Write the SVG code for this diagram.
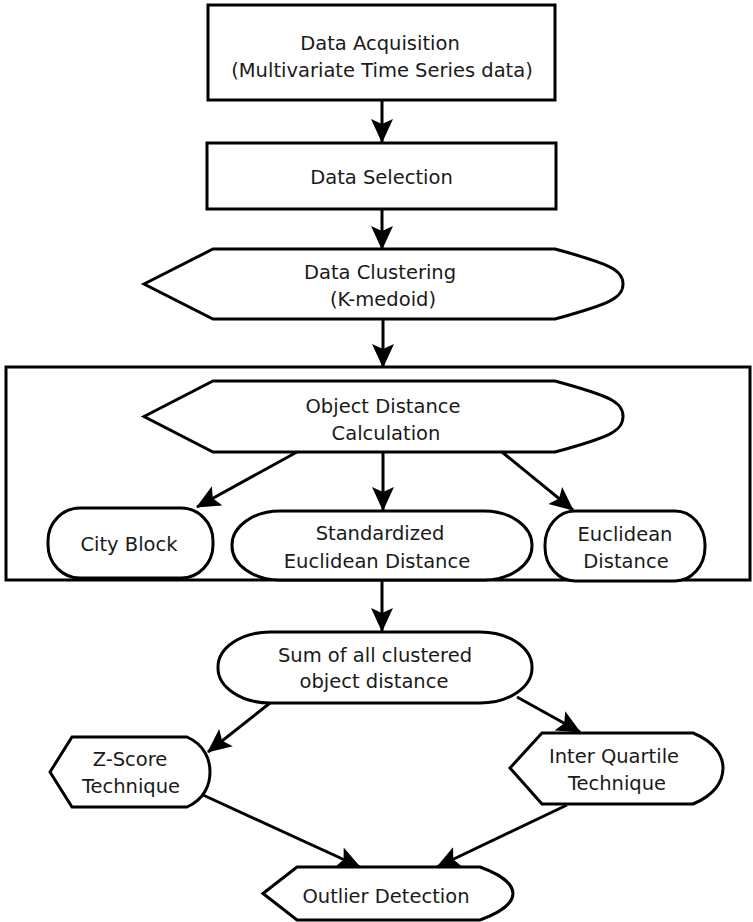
<svg xmlns="http://www.w3.org/2000/svg" width="753" height="922" viewBox="0 0 753 922">
<style>
.n{fill:#fff;stroke:#000;stroke-width:3;stroke-linejoin:miter}
.c{fill:none;stroke:#000;stroke-width:3}
text{font-family:"DejaVu Sans","Liberation Sans",sans-serif;font-size:19.5px;fill:#1a1a1a;text-anchor:middle}
</style>
<defs>
<marker id="ah" markerUnits="userSpaceOnUse" viewBox="0 0 24 24" markerWidth="24" markerHeight="24" refX="23" refY="12" orient="auto">
<path d="M0,1 L24,12 L0,23 L5,12 Z" fill="#000"/>
</marker>
</defs>
<rect x="6" y="367" width="744" height="213" fill="#fff" stroke="#000" stroke-width="3"/>
<g id="data-acquisition">
<rect class="n" x="208" y="5" width="347" height="95"/>
<text x="380" y="50">Data Acquisition</text>
<text x="382" y="77">(Multivariate Time Series data)</text>
</g>
<g id="data-selection">
<rect class="n" x="207" y="143" width="349" height="66"/>
<text x="381.5" y="184">Data Selection</text>
</g>
<g id="data-clustering">
<path class="n" d="M144,284 L213,249 L555,249 C610,264 623,270 623,284 C623,298 610,304 555,319 L213,319 Z"/>
<text x="380" y="279">Data Clustering</text>
<text x="383" y="306">(K-medoid)</text>
</g>
<g id="object-distance">
<path class="n" d="M144,416.5 L213,381 L555,381 C610,396 623,402 623,416.5 C623,431 610,437 555,452 L213,452 Z"/>
<text x="383" y="413">Object Distance</text>
<text x="386" y="440">Calculation</text>
</g>
<g id="city-block">
<rect class="n" x="48" y="508" width="165" height="70" rx="32" ry="33"/>
<text x="129" y="551">City Block</text>
</g>
<g id="standardized-euclidean">
<rect class="n" x="232" y="511" width="300" height="69" rx="48" ry="34"/>
<text x="380" y="540">Standardized</text>
<text x="377" y="568">Euclidean Distance</text>
</g>
<g id="euclidean">
<rect class="n" x="545" y="511" width="160" height="70" rx="30" ry="34"/>
<text x="625" y="541">Euclidean</text>
<text x="626" y="568">Distance</text>
</g>
<g id="sum-distance">
<rect class="n" x="218" y="632" width="314" height="71" rx="52" ry="35"/>
<text x="375" y="662">Sum of all clustered</text>
<text x="374" y="688">object distance</text>
</g>
<g id="z-score">
<path class="n" d="M50,772 L72,737 L187,737 C205,745 210,760 210,772 C210,784 205,799 187,807 L72,807 Z"/>
<text x="130" y="766">Z-Score</text>
<text x="131" y="793">Technique</text>
</g>
<g id="inter-quartile">
<path class="n" d="M510,768 L542,733 L693,733 C715,742 723,756 723,768 C723,781 715,795 693,804 L542,804 Z"/>
<text x="614" y="763">Inter Quartile</text>
<text x="617" y="790">Technique</text>
</g>
<g id="outlier-detection">
<path class="n" d="M263,893.5 L297,867 L480,867 C505,876 513,886 513,893.5 C513,901 505,911 480,920 L297,920 Z"/>
<text x="386" y="903">Outlier Detection</text>
</g>
<g id="connectors">
<line class="c" x1="382" y1="100" x2="382" y2="142" marker-end="url(#ah)"/>
<line class="c" x1="382" y1="209" x2="382" y2="249" marker-end="url(#ah)"/>
<line class="c" x1="383" y1="319" x2="383" y2="367" marker-end="url(#ah)"/>
<line class="c" x1="297" y1="452" x2="197" y2="507" marker-end="url(#ah)"/>
<line class="c" x1="383" y1="452" x2="383" y2="510" marker-end="url(#ah)"/>
<line class="c" x1="502" y1="452" x2="573" y2="510" marker-end="url(#ah)"/>
<line class="c" x1="382" y1="580" x2="382" y2="631" marker-end="url(#ah)"/>
<line class="c" x1="270" y1="703" x2="208" y2="752" marker-end="url(#ah)"/>
<line class="c" x1="517" y1="697" x2="580" y2="732" marker-end="url(#ah)"/>
<line class="c" x1="203" y1="795" x2="360" y2="867" marker-end="url(#ah)"/>
<line class="c" x1="567" y1="805" x2="437" y2="867" marker-end="url(#ah)"/>
</g>
</svg>
